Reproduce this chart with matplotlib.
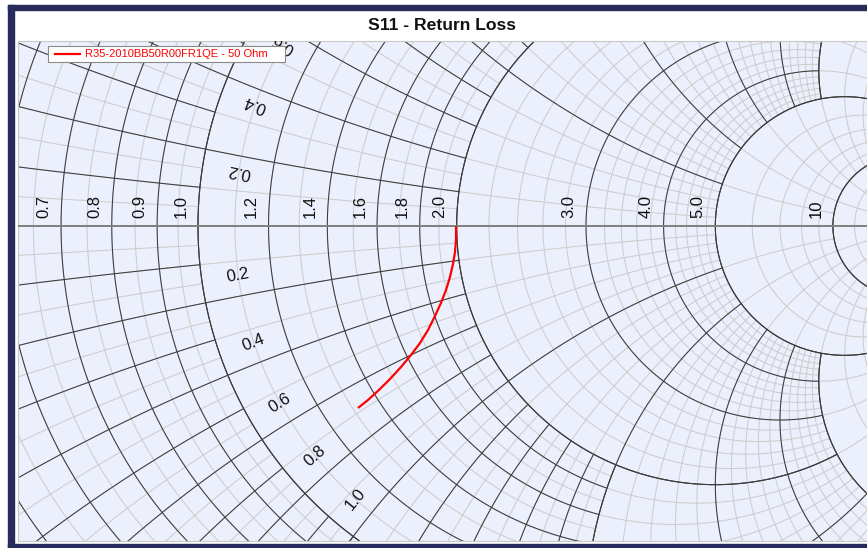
import numpy as np
import matplotlib
matplotlib.use('Agg')
import matplotlib.pyplot as plt
from matplotlib.collections import LineCollection
from matplotlib.patches import Rectangle
from matplotlib.lines import Line2D

plt.rcParams['font.family'] = 'Liberation Sans'

s11_re = [0.3325, 0.3325, 0.3312, 0.3286, 0.3247, 0.3196, 0.3131, 0.3054, 0.2964,
          0.2861, 0.2745, 0.2616, 0.2474, 0.2332, 0.2191, 0.2062]
s11_im = [0.0, -0.018, -0.0335, -0.049, -0.0657, -0.0825, -0.0992, -0.116, -0.134,
          -0.1508, -0.1662, -0.1817, -0.1972, -0.2113, -0.2242, -0.2345]
series_name = 'R35-2010BB50R00FR1QE - 50 Ohm'

# smith grid labels
r_labels = [0.7, 0.8, 0.9, 1.0, 1.2, 1.4, 1.6, 1.8, 2.0, 3.0, 4.0, 5.0, 10]
x_labels = [0.2, 0.4, 0.6, 0.8, 1.0]

# grid cells: r_lo, r_hi, x_lo, x_hi, r_step, x_step (0 = no lines of that kind)
minor_cells = [
    (0.0, 1.0, 0.0, 1.0, 0.05, 0.05),
    (0.0, 1.0, 1.0, 2.0, 0.1, 0.1),
    (1.0, 2.0, 0.0, 2.0, 0.1, 0.1),
    (0.0, 2.0, 2.0, 5.0, 0.2, 0.2),
    (2.0, 5.0, 0.0, 5.0, 0.2, 0.2),
    (0.0, 5.0, 5.0, 10.0, 1.0, 1.0),
    (5.0, 10.0, 0.0, 10.0, 1.0, 1.0),
    (0.0, 10.0, 10.0, 20.0, 2.0, 2.0),
    (10.0, 20.0, 0.0, 20.0, 2.0, 2.0),
]
major_cells = [
    (0.0, 1.0, 0.0, 1.0, 0.1, 0.1),
    (0.0, 1.0, 1.0, 2.0, 0.2, 0.2),
    (1.0, 2.0, 0.0, 2.0, 0.2, 0.2),
    (0.0, 2.0, 2.0, 5.0, 1.0, 1.0),
    (2.0, 5.0, 0.0, 5.0, 1.0, 1.0),
    (0.0, 5.0, 5.0, 10.0, 5.0, 5.0),
    (5.0, 10.0, 0.0, 10.0, 5.0, 0),
    (10.0, 20.0, 0.0, 20.0, 10.0, 0),
]


def gamma(z):
    return (z - 1) / (z + 1)


def cell_segments(cells):
    segs = []
    for r0, r1, x0, x1, dr, dx in cells:
        if dr:
            for r in np.round(np.arange(r0, r1 + dr / 2, dr), 6):
                for s in (1, -1):
                    g = gamma(r + 1j * s * np.linspace(x0, x1, 300))
                    segs.append(np.column_stack([g.real, g.imag]))
        if dx:
            for x in np.round(np.arange(x0, x1 + dx / 2, dx), 6):
                if x == 0:
                    continue
                for s in (1, -1):
                    g = gamma(np.linspace(r0, r1, 400) + 1j * s * x)
                    segs.append(np.column_stack([g.real, g.imag]))
    return segs


W, H = 867, 548
fig = plt.figure(figsize=(W / 100, H / 100), dpi=100)
px = 776.0  # pixels per unit of gamma

ax = fig.add_axes([17.5 / W, (H - 540.5) / H, (W - 17.5) / W, 500 / H])
ax.set_facecolor('#ecf0fc')
x_lo, x_hi = -180.5 / px, (W - 198) / px
y_lo, y_hi = -(540.5 - 226) / px, (226 - 40.5) / px
ax.set_xlim(x_lo, x_hi)
ax.set_ylim(y_lo, y_hi)
ax.set_xticks([])
ax.set_yticks([])
for sp in ax.spines.values():
    sp.set_color('#c8c8c8')
    sp.set_linewidth(0.8)

ax.add_collection(LineCollection(cell_segments(minor_cells), colors='#cdcdcd', linewidths=0.75, zorder=1))
ax.add_collection(LineCollection(cell_segments(major_cells), colors='#3c3c3c', linewidths=0.75, zorder=2))
ax.axhline(0, color='#7f7f7f', lw=1.4, zorder=3)

# resistance labels
for r in r_labels:
    g = (r - 1) / (r + 1)
    txt = '%.1f' % r if r < 10 else '%d' % r
    ax.text(g - 17 / px, 8 / px, txt, rotation=90, ha='center', va='bottom',
            fontsize=12, color='#111111', clip_on=True, zorder=4)

# reactance labels
r_lab = 1.1
for v in x_labels:
    g = gamma(r_lab - 1j * v)
    c = 1 - 1j / v
    n = (g - c) / abs(g - c)
    ang = np.degrees(np.angle(n * 1j))
    if ang > 90:
        ang -= 180
    if ang <= -90:
        ang += 180
    p_lo = g + 21 / px * n
    p_up = g + 15 / px * n
    if y_lo < p_lo.imag:
        ax.text(p_lo.real, p_lo.imag, '%.1f' % v, rotation=ang, rotation_mode='anchor',
                ha='center', va='center', fontsize=12, color='#111111', clip_on=True, zorder=4)
    if -p_up.imag < y_hi + 10 / px:
        ax.text(p_up.real, -p_up.imag, '%.1f' % v, rotation=180 - ang, rotation_mode='anchor',
                ha='center', va='center', fontsize=12, color='#111111', clip_on=True, zorder=4)

ax.plot(s11_re, s11_im, color='#ff0000', lw=1.6, zorder=5, solid_capstyle='butt')

# legend box
def fpx(x, y):
    return x / W, 1 - y / H

lx0, ly0 = fpx(48, 62)
lx1, ly1 = fpx(285, 46.5)
fig.patches.append(Rectangle((lx0, ly0), lx1 - lx0, ly1 - ly0, transform=fig.transFigure,
                             facecolor='white', edgecolor='#8a8a8a', lw=0.8, zorder=10))
a0, ay = fpx(55, 54)
a1, _ = fpx(80, 54)
fig.lines.append(Line2D([a0, a1], [ay, ay], transform=fig.transFigure, color='#ff0000', lw=1.6, zorder=11))
tx, _ = fpx(85, 54)
fig.text(tx, ay, series_name, ha='left', va='center', fontsize=8, color='#ff0000', zorder=12)

fig.text((17.5 + W) / 2 / W, 1 - 26 / H, 'S11 - Return Loss', ha='center', va='center',
         fontsize=12.6, fontweight='bold', color='#111111')

# outer navy frame
navy = '#282c5c'
fig.patches.append(Rectangle((8 / W, 0), 5.5 / W, (H - 5) / H, transform=fig.transFigure, color=navy))
fig.patches.append(Rectangle((8 / W, (H - 9.5) / H), (W - 8) / W, 4.5 / H, transform=fig.transFigure, color=navy))
fig.patches.append(Rectangle((8 / W, 0), (W - 8) / W, 4 / H, transform=fig.transFigure, color=navy))

fig.savefig('out.png', dpi=100, facecolor='white')
